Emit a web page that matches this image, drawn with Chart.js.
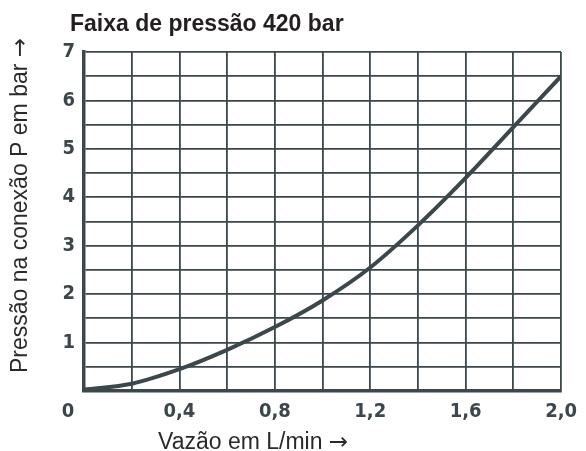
<!DOCTYPE html>
<html>
<head>
<meta charset="utf-8">
<script src="https://cdn.jsdelivr.net/npm/chart.js@4"></script>
<style>
  html, body { margin: 0; padding: 0; background: #ffffff; }
  #wrap { width: 586px; height: 451px; }
</style>
</head>
<body>
<div id="wrap"><canvas id="chart" width="586" height="451"></canvas></div>
<script>
// Flow (L/min) and connection pressure (bar), pressure range 420 bar
const flow = [0, 0.2, 0.4, 0.6, 0.8, 1.0, 1.2, 1.4, 1.6, 1.8, 2.0];
const pressure = [0.03, 0.15, 0.45, 0.85, 1.32, 1.87, 2.55, 3.42, 4.4, 5.45, 6.5];

const titleText = 'Faixa de pressão 420 bar';
const xTitle = 'Vazão em L/min';
const yTitle = 'Pressão na conexão P em bar';
const arrow = '→';
const originLabel = '0';

const ink = '#3c474b';
const textDark = '#231f20';
const labelFont = '23px "Liberation Sans", Arial, sans-serif';
const arrowFont = '23px "DejaVu Sans", sans-serif';
const tickFont = { family: '"DejaVu Sans Condensed", "DejaVu Sans", sans-serif', weight: 'bold', size: 20 };

// Axis caption followed by an arrow, drawn left-aligned from (0, 0)
function drawCaption(ctx, text) {
  ctx.font = labelFont;
  ctx.fillText(text, 0, 0);
  const w = ctx.measureText(text + ' ').width;
  ctx.font = arrowFont;
  ctx.fillText(arrow, w, 0);
}

// Titles and the shared origin label, placed relative to the chart area
const textPlugin = {
  id: 'axisTexts',
  afterDraw(chart) {
    const { ctx, chartArea, scales } = chart;
    ctx.save();
    ctx.fillStyle = textDark;
    ctx.font = 'bold 23px "Liberation Sans", Arial, sans-serif';
    ctx.textAlign = 'left';
    ctx.textBaseline = 'alphabetic';
    ctx.fillText(titleText, chartArea.left - 14, chartArea.top - 21);

    ctx.fillStyle = '#2a2a2a';
    ctx.save();
    ctx.translate(158, chartArea.bottom + 58);
    drawCaption(ctx, xTitle);
    ctx.restore();

    ctx.save();
    ctx.translate(27, 373);
    ctx.rotate(-Math.PI / 2);
    drawCaption(ctx, yTitle);
    ctx.restore();

    ctx.fillStyle = ink;
    ctx.font = `${tickFont.weight} ${tickFont.size}px ${tickFont.family}`;
    ctx.textAlign = 'center';
    ctx.textBaseline = 'middle';
    ctx.fillText(originLabel, scales.x.getPixelForValue(0) - 16, chartArea.bottom + 21);
    ctx.restore();
  }
};

new Chart(document.getElementById('chart'), {
  type: 'line',
  data: {
    datasets: [{
      data: flow.map((f, i) => ({ x: f, y: pressure[i] })),
      borderColor: ink,
      borderWidth: 4,
      pointRadius: 0,
      cubicInterpolationMode: 'monotone',
      fill: false
    }]
  },
  options: {
    responsive: false,
    animation: false,
    layout: { padding: { left: 24, right: 20, top: 52, bottom: 20 } },
    plugins: { legend: { display: false }, tooltip: { enabled: false }, title: { display: false } },
    scales: {
      x: {
        type: 'linear',
        min: 0,
        max: 2,
        afterFit(scale) { scale.height = 40; },
        ticks: {
          stepSize: 0.2,
          autoSkip: false,
          maxRotation: 0,
          padding: 9,
          color: ink,
          font: tickFont,
          callback(v) {
            const k = Math.round(v * 10);
            if (k === 0 || k % 4 !== 0) return '';
            return (k / 10).toFixed(1).replace('.', ',');
          }
        },
        grid: { color: ink, lineWidth: 1.8, drawTicks: false },
        border: { color: ink, width: 3.5 }
      },
      y: {
        min: 0,
        max: 7,
        afterFit(scale) { scale.width = 60; },
        ticks: {
          stepSize: 0.5,
          autoSkip: false,
          padding: 9,
          color: ink,
          font: tickFont,
          callback(v) {
            if (v === 0 || !Number.isInteger(v)) return '';
            return String(v);
          }
        },
        grid: { color: ink, lineWidth: 1.8, drawTicks: false },
        border: { color: ink, width: 3.5 }
      }
    }
  },
  plugins: [textPlugin]
});
</script>
</body>
</html>
